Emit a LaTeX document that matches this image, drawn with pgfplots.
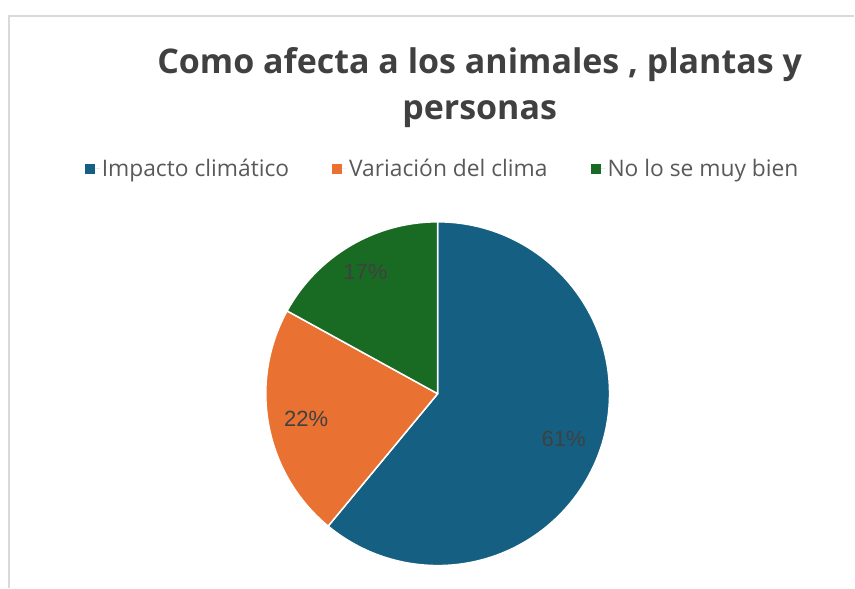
\documentclass[border=0pt]{standalone}
\usepackage{pgfplots}
\usepackage{pgfplotstable}
\usepackage{fontspec}
\pgfplotsset{compat=1.18}
\setmainfont{Open Sans}
\newfontfamily\labelfont{Liberation Sans}

\definecolor{impacto}{HTML}{156082}
\definecolor{variacion}{HTML}{E97132}
\definecolor{nosabe}{HTML}{196B24}
\definecolor{titulo}{HTML}{404040}
\definecolor{leyenda}{HTML}{595959}
\definecolor{marco}{HTML}{D9D9D9}

% porcentajes de cada respuesta
\pgfplotstableread{
share
61
22
17
}\piedata

\pgfplotstablegetelem{0}{share}\of\piedata \let\pa\pgfplotsretval
\pgfplotstablegetelem{1}{share}\of\piedata \let\pb\pgfplotsretval
\pgfplotstablegetelem{2}{share}\of\piedata \let\pc\pgfplotsretval

% angulos (en sentido horario desde arriba)
\pgfmathsetmacro{\angA}{90-3.6*\pa}
\pgfmathsetmacro{\angB}{\angA-3.6*\pb}
\pgfmathsetmacro{\angC}{\angB-3.6*\pc}
\pgfmathsetmacro{\midA}{(90+\angA)/2}
\pgfmathsetmacro{\midB}{(\angA+\angB)/2}
\pgfmathsetmacro{\midC}{(\angB+\angC)/2}

\begin{document}
\begin{tikzpicture}
\begin{axis}[
  x=1pt, y=1pt,
  xmin=0, xmax=855, ymin=0, ymax=588,
  hide axis, clip=false,
  legend columns=3,
  legend image code/.code={\fill[#1, draw=none] (0pt,-5pt) rectangle (10pt,5pt);
    \path[draw=none] (0pt,0pt) -- (15pt,0pt);},
  legend style={
    at={(0.5181,0.7126)}, anchor=center,
    draw=none, fill=none,
    font=\fontsize{22.8}{27}\selectfont,
    text=leyenda,
    /tikz/every even column/.append style={column sep=41pt},
  },
]
\addlegendimage{fill=impacto}\addlegendentry{Impacto climático}
\addlegendimage{fill=variacion}\addlegendentry{Variación del clima}
\addlegendimage{fill=nosabe}\addlegendentry{No lo se muy bien}

\path (axis cs:0,0) rectangle (axis cs:855,588);
\draw[marco, line width=1.3pt] (axis cs:9,0) -- (axis cs:9,572) -- (axis cs:855,572);

\filldraw[fill=impacto, draw=white, line width=1.5pt, line join=round]
  (axis cs:438,194) -- ++(90:172pt) arc[start angle=90, end angle=\angA, radius=172pt] -- cycle;
\filldraw[fill=variacion, draw=white, line width=1.5pt, line join=round]
  (axis cs:438,194) -- ++(\angA:172pt) arc[start angle=\angA, end angle=\angB, radius=172pt] -- cycle;
\filldraw[fill=nosabe, draw=white, line width=1.5pt, line join=round]
  (axis cs:438,194) -- ++(\angB:172pt) arc[start angle=\angB, end angle=\angC, radius=172pt] -- cycle;

\path (axis cs:438,194) ++(\midA:134pt) node[font=\labelfont\fontsize{22}{26}\selectfont, text=titulo] {\pa\%};
\path (axis cs:438,194) ++(\midB:134pt) node[font=\labelfont\fontsize{22}{26}\selectfont, text=titulo] {\pb\%};
\path (axis cs:438,194) ++(\midC:142pt) node[font=\labelfont\fontsize{22}{26}\selectfont, text=titulo] {\pc\%};

\node[anchor=base, font=\bfseries\fontsize{34}{40}\selectfont, text=titulo]
  at (axis cs:480,514) {Como afecta a los animales , plantas y};
\node[anchor=base, font=\bfseries\fontsize{34}{40}\selectfont, text=titulo]
  at (axis cs:480,468) {personas};
\end{axis}
\end{tikzpicture}
\end{document}
